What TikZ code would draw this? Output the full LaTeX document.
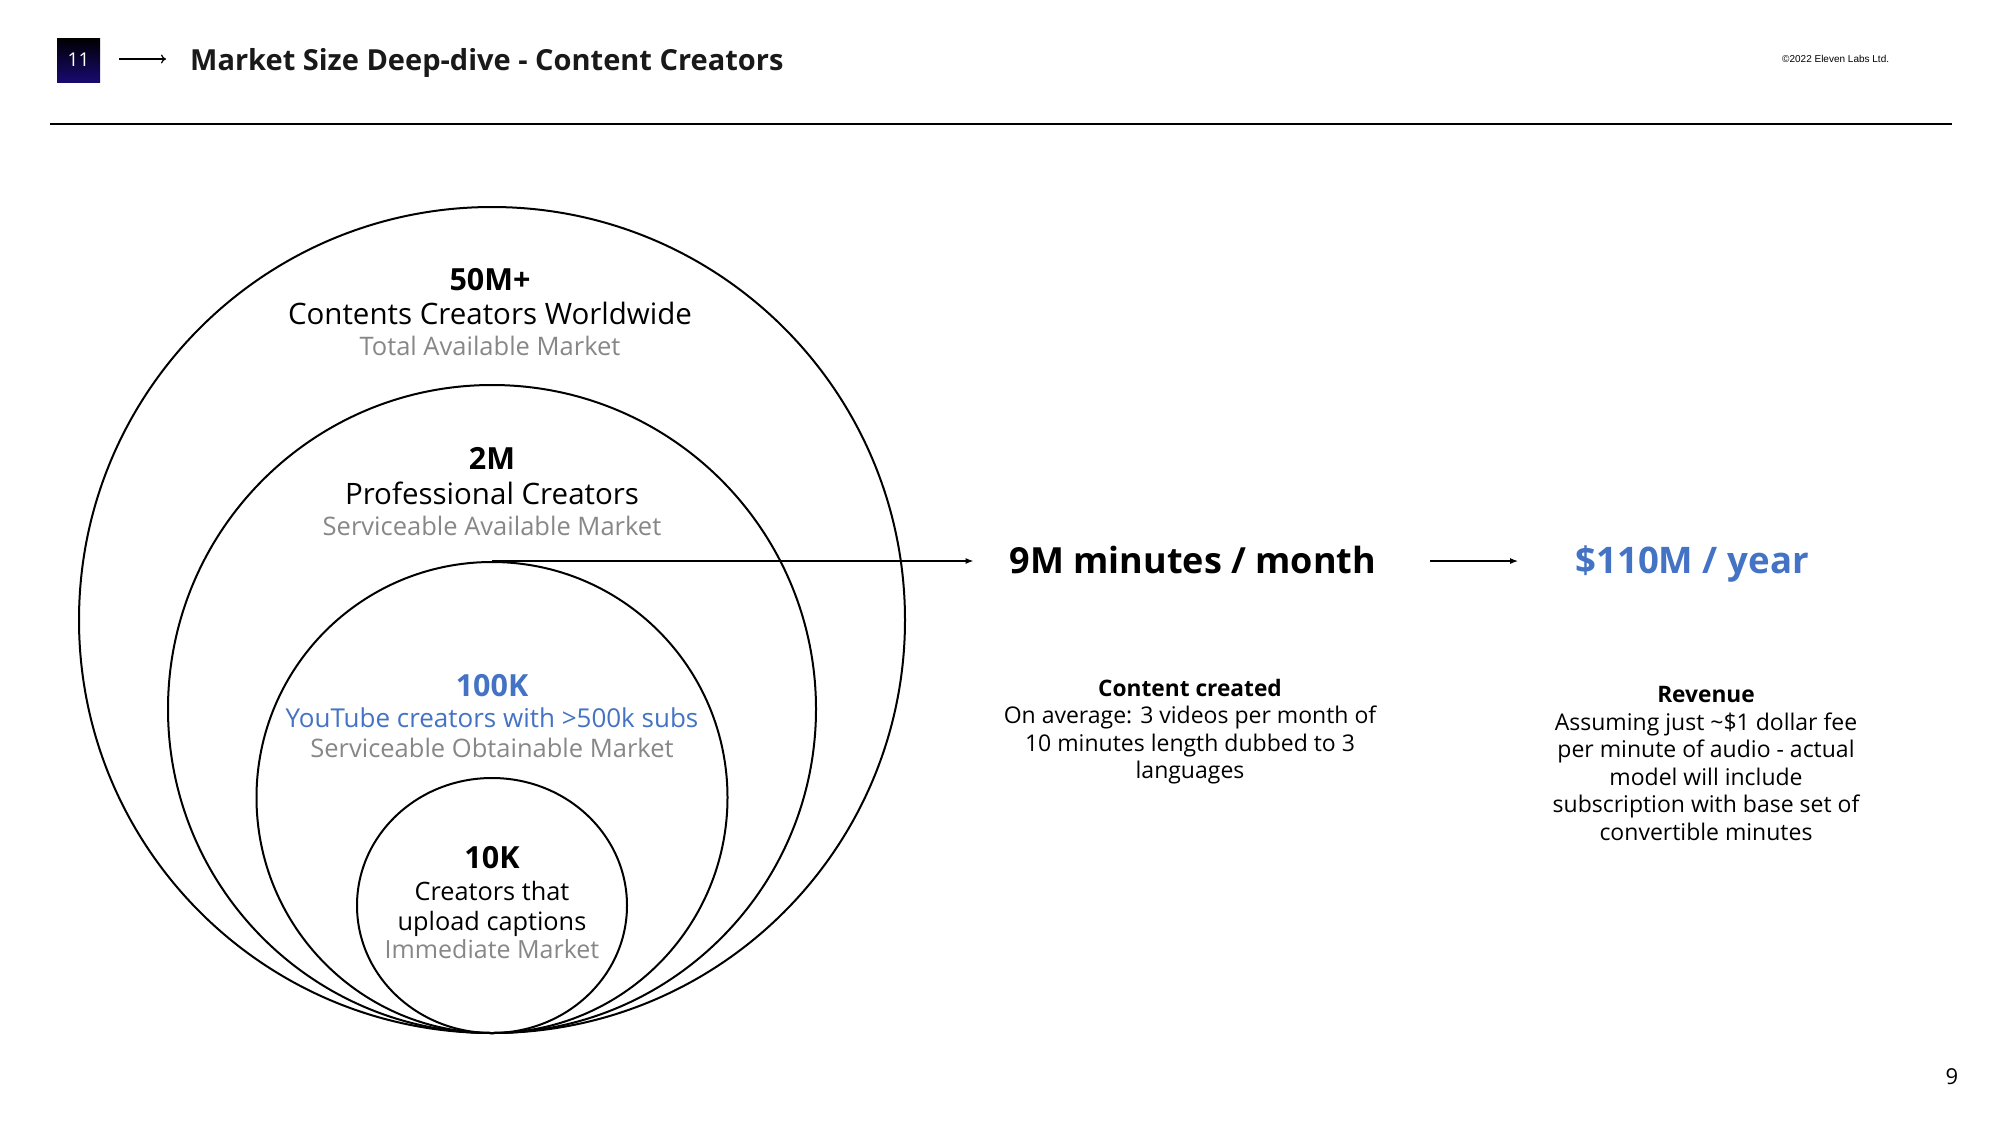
\documentclass[tikz,border=0pt]{standalone}
\usepackage{fontspec}
\setmainfont{Open Sans}
\newfontfamily\arialfont{Liberation Sans}
\usetikzlibrary{arrows.meta,shapes.geometric}
\definecolor{accent}{RGB}{68,114,196}
\definecolor{subgray}{RGB}{135,135,135}
\definecolor{navy}{RGB}{24,10,112}
\newcommand{\fsz}[1]{\fontsize{#1}{#1}\selectfont}
\begin{document}
\begin{tikzpicture}[x=1pt,y=-1pt,
  ring/.style={draw=black, line width=2pt, circle, minimum size=#1, inner sep=0pt},
  ln/.style={anchor=base, inner sep=0pt},
  big/.style={ln, font=\fsz{30.5}\bfseries},
  mid/.style={ln, font=\fsz{29.5}},
  sub/.style={ln, font=\fsz{25.5}, text=subgray},
  body/.style={ln, font=\fsz{23}},
  bodyb/.style={ln, font=\fsz{22.7}\bfseries},
  result/.style={ln, font=\fsz{36}\bfseries},
  flow/.style={line width=1.3pt, -{Latex[length=8pt,width=6pt]}}
]
\useasboundingbox (0,0) rectangle (2000,1125);
\fill[white] (0,0) rectangle (2000,1125);

% header
\node[rectangle, top color=black, bottom color=navy, minimum width=43pt, minimum height=44pt, inner sep=0pt, text=white, font=\fsz{19}] (num) at (78.5,60) {11};
\node[anchor=base west, inner sep=0pt, font=\fsz{29}\bfseries, text={rgb,255:red,25;green,25;blue,25}] (title) at (190,70) {Market Size Deep-dive - Content Creators};
\draw[line width=1.2pt, -{To[length=5pt,width=9pt]}, shorten <=19pt, shorten >=24pt] (num.east |- 0,59) -- (title.west |- 0,59);
\node[anchor=base west, inner sep=0pt, font=\arialfont\fsz{10}] (copy) at (1782,62) {©2022 Eleven Labs Ltd.};
\coordinate (rl) at (50,124);
\coordinate (rr) at (1952,124);
\draw[line width=2pt] (rl) -- (rr);

% circles
\node[ring=826pt] (tamc) at (492,620) {};
\node[ring=648pt] (samc) at (492,709) {};
\node[ring=471pt] (somc) at (492,797.5) {};
\node[draw=black, line width=2pt, ellipse, minimum width=270pt, minimum height=255pt, inner sep=0pt] (imc) at (492,905.5) {};

% labels
\node[big] (tam1) at (490,290) {50M+};
\node[mid] (tam2) at (490,324) {Contents Creators Worldwide};
\node[sub] (tam3) at (490,355) {Total Available Market};

\node[big] (sam1) at (492,469) {2M};
\node[mid] (sam2) at (492,504) {Professional Creators};
\node[sub] (sam3) at (492,535) {Serviceable Available Market};

\node[big, text=accent] (som1) at (492,696) {100K};
\node[ln, font=\fsz{26}, text=accent] (som2) at (492,727) {YouTube creators with >500k subs};
\node[sub] (som3) at (492,757) {Serviceable Obtainable Market};

\node[big] (im1) at (492,868) {10K};
\node[ln, font=\fsz{25.3}] (im2) at (492,900) {Creators that};
\node[ln, font=\fsz{25.3}] (im3) at (492,930) {upload captions};
\node[ln, font=\fsz{25}, text=subgray] (im4) at (492,958) {Immediate Market};

% right side
\node[result] (mins) at (1193,573) {9M minutes / month};
\node[result, text=accent, font=\fsz{36.6}\bfseries] (rev) at (1692,573) {\$110M / year};
\draw[flow, shorten >=36pt] (somc.north) -- (somc.north -| mins.west);
\draw[flow, shorten <=54pt, shorten >=57pt] (somc.north -| mins.east) -- (somc.north -| rev.west);

\node[bodyb] (cc0) at (1190,696) {Content created};
\node[body] (cc1) at (1190,723) {On average: 3 videos per month of};
\node[body] (cc2) at (1190,751) {10 minutes length dubbed to 3};
\node[body] (cc3) at (1190,778) {languages};

\node[bodyb] (rv0) at (1706,702) {Revenue};
\node[body] (rv1) at (1706,730) {Assuming just \textasciitilde\$1 dollar fee};
\node[body] (rv2) at (1706,757) {per minute of audio - actual};
\node[body] (rv3) at (1706,785) {model will include};
\node[body] (rv4) at (1706,812) {subscription with base set of};
\node[body] (rv5) at (1706,840) {convertible minutes};

\node[ln, font=\fsz{22}] (page) at (1952,1084) {9};
\end{tikzpicture}
\end{document}
